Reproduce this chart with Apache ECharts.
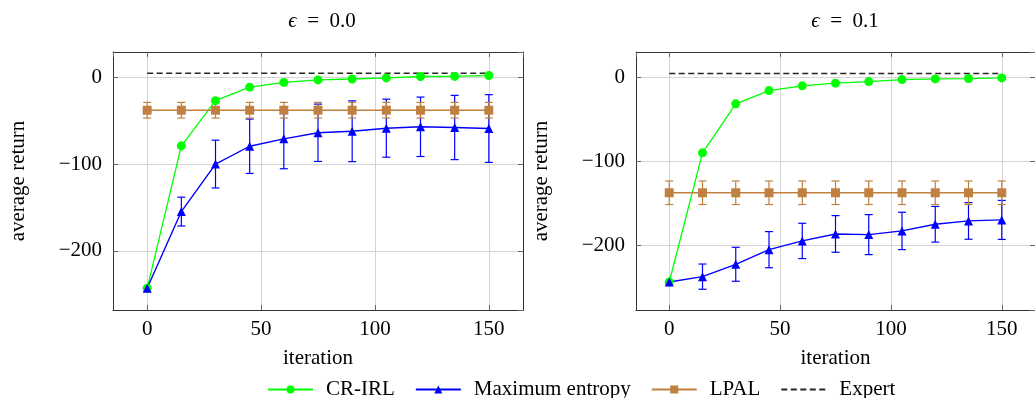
<!DOCTYPE html>
<html>
<head>
<meta charset="utf-8">
<style>
  html, body { margin: 0; padding: 0; background: #fff; }
  #chart { width: 1035px; height: 398px; }
</style>
<script src="https://cdn.jsdelivr.net/npm/echarts@6/dist/echarts.min.js"></script>
</head>
<body>
<div id="chart"></div>
<script>
// Iterations at which every method was evaluated
const iterations = [0, 15, 30, 45, 60, 75, 90, 105, 120, 135, 150];

// Panel titles (noise level)
const panelEps = ['0.0', '0.1'];

// epsilon = 0.0
const crIrl0     = [-243, -79, -27, -11.5, -6, -3.1, -2.1, -0.8, 0.8, 0.9, 2];
const maxEnt0    = [-243, -154.7, -100, -79.5, -71, -64, -62.2, -58.7, -57.1, -57.9, -59.1];
const maxEntErr0 = [0, 16.6, 27.5, 31.3, 34.4, 33, 35, 33.4, 34.2, 37, 39];
const lpal0      = [-38, -38, -38, -38, -38, -38, -38, -38, -38, -38, -38];
const lpalErr0   = [9, 9, 9, 9, 9, 9, 9, 9, 9, 9, 9];
const expert0    = 4.5;

// epsilon = 0.1
const crIrl1     = [-243.7, -90, -31.7, -15.9, -10.3, -7.1, -5.2, -2.8, -2, -1.6, -0.8];
const maxEnt1    = [-243.7, -237.3, -222.6, -205.2, -194.8, -186.5, -187.3, -182.9, -175, -171, -169.8];
const maxEntErr1 = [0, 15, 20.2, 21.5, 21, 21.8, 23.8, 22.2, 21.2, 21.8, 23.2];
const lpal1      = [-137.5, -137.5, -137.5, -137.5, -137.5, -137.5, -137.5, -137.5, -137.5, -137.5, -137.5];
const lpalErr1   = [14, 14, 14, 14, 14, 14, 14, 14, 14, 14, 14];
const expert1    = 4.5;

// Axis ranges
const xRange = [-15, 165];
const yRanges = [[-268, 29], [-277, 30]];

const FONT = 'Liberation Serif';
const C_CR = '#00ff00';
const C_ME = '#0000ff';
const C_LP = '#bf8040';
const C_EX = '#262626';

const minusFmt = v => (v < 0 ? '\u2212' + (-v) : String(v));

function pairs(ys) { return iterations.map((x, i) => [x, ys[i]]); }
function bars(ys, errs) { return iterations.map((x, i) => [x, ys[i] - errs[i], ys[i] + errs[i]]); }

// Vertical error bar with caps at both ends
function errRender(color) {
  return function (params, api) {
    const x = api.value(0), lo = api.value(1), hi = api.value(2);
    if (hi === lo) return null;
    const a = api.coord([x, lo]);
    const b = api.coord([x, hi]);
    const w = 4;
    const style = { stroke: color, lineWidth: 1.2, fill: null };
    return {
      type: 'group',
      children: [
        { type: 'line', shape: { x1: a[0], y1: a[1], x2: b[0], y2: b[1] }, style: style },
        { type: 'line', shape: { x1: a[0] - w, y1: a[1], x2: a[0] + w, y2: a[1] }, style: style },
        { type: 'line', shape: { x1: b[0] - w, y1: b[1], x2: b[0] + w, y2: b[1] }, style: style }
      ]
    };
  };
}

const grids = [
  { left: 113, top: 52, width: 410, height: 258 },
  { left: 636, top: 52, width: 410, height: 258 }
];

const xAxes = [];
const yAxes = [];
grids.forEach((g, gi) => {
  // bottom axis with labels and grid
  xAxes.push({
    type: 'value', gridIndex: gi, min: xRange[0], max: xRange[1], splitNumber: 4,
    name: 'iteration', nameLocation: 'middle', nameGap: 38,
    nameTextStyle: { fontFamily: FONT, fontSize: 21, color: '#000' },
    axisLine: { show: true, onZero: false, lineStyle: { color: '#333', width: 1 } },
    axisTick: { show: true, inside: true, length: 5, lineStyle: { color: '#666' } },
    axisLabel: { show: true, showMinLabel: false, showMaxLabel: false, margin: 9,
      fontFamily: FONT, fontSize: 21, color: '#000', formatter: minusFmt },
    splitLine: { show: true, lineStyle: { color: '#d4d4d4', width: 1 } }
  });
  // top mirror
  xAxes.push({
    type: 'value', gridIndex: gi, position: 'top', min: xRange[0], max: xRange[1], splitNumber: 4,
    axisLine: { show: true, onZero: false, lineStyle: { color: '#333', width: 1 } },
    axisTick: { show: true, inside: true, length: 5, lineStyle: { color: '#666' } },
    axisLabel: { show: false }, splitLine: { show: false }
  });
  // left axis with labels and grid
  yAxes.push({
    type: 'value', gridIndex: gi, min: yRanges[gi][0], max: yRanges[gi][1], splitNumber: 3,
    name: 'average return', nameLocation: 'middle', nameGap: 84,
    nameTextStyle: { fontFamily: FONT, fontSize: 21, color: '#000' },
    axisLine: { show: true, onZero: false, lineStyle: { color: '#333', width: 1 } },
    axisTick: { show: true, inside: true, length: 5, lineStyle: { color: '#666' } },
    axisLabel: { show: true, showMinLabel: false, showMaxLabel: false, margin: 11,
      fontFamily: FONT, fontSize: 21, color: '#000', formatter: minusFmt },
    splitLine: { show: true, lineStyle: { color: '#d4d4d4', width: 1 } }
  });
  // right mirror
  yAxes.push({
    type: 'value', gridIndex: gi, position: 'right', min: yRanges[gi][0], max: yRanges[gi][1], splitNumber: 3,
    axisLine: { show: true, onZero: false, lineStyle: { color: '#333', width: 1 } },
    axisTick: { show: true, inside: true, length: 5, lineStyle: { color: '#666' } },
    axisLabel: { show: false }, splitLine: { show: false }
  });
});

const panels = [
  { cr: crIrl0, me: maxEnt0, meErr: maxEntErr0, lp: lpal0, lpErr: lpalErr0, ex: expert0 },
  { cr: crIrl1, me: maxEnt1, meErr: maxEntErr1, lp: lpal1, lpErr: lpalErr1, ex: expert1 }
];

const series = [];
panels.forEach((p, gi) => {
  const xi = gi * 2, yi = gi * 2;
  series.push({
    name: 'CR-IRL', type: 'line', xAxisIndex: xi, yAxisIndex: yi,
    data: pairs(p.cr), symbol: 'circle', symbolSize: 9,
    lineStyle: { color: C_CR, width: 1.3 }, itemStyle: { color: C_CR }
  });
  series.push({
    type: 'custom', xAxisIndex: xi, yAxisIndex: yi,
    data: bars(p.me, p.meErr), encode: { x: 0, y: [1, 2] },
    renderItem: errRender(C_ME), silent: true
  });
  series.push({
    name: 'Maximum entropy', type: 'line', xAxisIndex: xi, yAxisIndex: yi,
    data: pairs(p.me), symbol: 'triangle', symbolSize: 9,
    lineStyle: { color: C_ME, width: 1.4 }, itemStyle: { color: C_ME }
  });
  series.push({
    type: 'custom', xAxisIndex: xi, yAxisIndex: yi,
    data: bars(p.lp, p.lpErr), encode: { x: 0, y: [1, 2] },
    renderItem: errRender(C_LP), silent: true
  });
  series.push({
    name: 'LPAL', type: 'line', xAxisIndex: xi, yAxisIndex: yi,
    data: pairs(p.lp), symbol: 'rect', symbolSize: 9,
    lineStyle: { color: C_LP, width: 1.4 }, itemStyle: { color: C_LP }
  });
  series.push({
    name: 'Expert', type: 'line', xAxisIndex: xi, yAxisIndex: yi,
    data: [[iterations[0], p.ex], [iterations[iterations.length - 1], p.ex]],
    symbol: 'none',
    lineStyle: { color: C_EX, width: 1.5, type: [6, 3.5] },
    itemStyle: { color: 'rgba(0,0,0,0)', borderWidth: 0 }
  });
});

const option = {
  animation: false,
  backgroundColor: '#fff',
  title: panelEps.map((e, i) => ({
    text: '{e|\u03f5}\u2002=\u2002' + e,
    left: i === 0 ? 317 : 840, top: 6, textAlign: 'center',
    textStyle: {
      fontFamily: FONT, fontSize: 21, fontWeight: 'normal', color: '#000',
      rich: { e: { fontFamily: FONT, fontSize: 21, fontStyle: 'italic', color: '#000' } }
    }
  })),
  legend: {
    data: ['CR-IRL', 'Maximum entropy', 'LPAL', 'Expert'],
    left: 262, top: 374, itemWidth: 45, itemHeight: 10, itemGap: 20,
    textStyle: { fontFamily: FONT, fontSize: 21, color: '#000', padding: [0, 0, 0, 8] },
    selectedMode: false
  },
  grid: grids,
  xAxis: xAxes,
  yAxis: yAxes,
  series: series
};

const chart = echarts.init(document.getElementById('chart'), null, { renderer: 'canvas' });
chart.setOption(option);
</script>
</body>
</html>
